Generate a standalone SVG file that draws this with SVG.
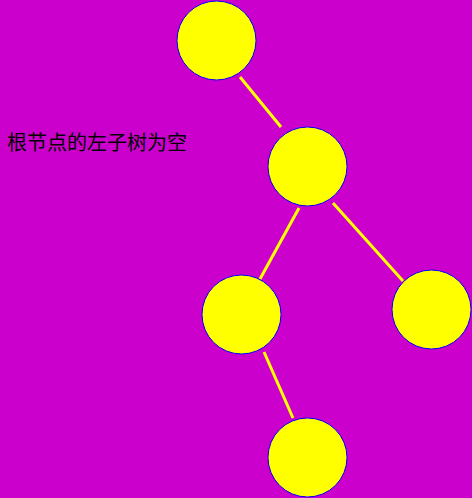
<svg xmlns="http://www.w3.org/2000/svg" width="472" height="498" viewBox="0 0 472 498">
<style>
.node{fill:#ffff00;stroke:#0000ff;stroke-width:1}
.edge{stroke:#ffff00;stroke-width:3;fill:none}
.lbl{font-family:"Noto Sans CJK SC","Noto Sans",sans-serif;font-size:20px;fill:#000}
</style>
<rect width="472" height="498" fill="#cc00cc"/>
<g id="edges">
<line class="edge" x1="240" y1="77" x2="281" y2="127"/>
<line class="edge" x1="299" y1="208" x2="260" y2="279"/>
<line class="edge" x1="333" y1="203" x2="403" y2="281"/>
<line class="edge" x1="264" y1="352" x2="293" y2="418"/>
</g>
<g id="n1"><circle class="node" cx="216.5" cy="40.5" r="39.5"/></g>
<g id="n2"><circle class="node" cx="307.5" cy="166.5" r="39.5"/></g>
<g id="n3"><circle class="node" cx="241.5" cy="314.5" r="39.5"/></g>
<g id="n4"><circle class="node" cx="431.5" cy="309.5" r="39.5"/></g>
<g id="n5"><circle class="node" cx="307.5" cy="457.5" r="39.5"/></g>
<text class="lbl" x="7" y="150">根节点的左子树为空</text>
</svg>
